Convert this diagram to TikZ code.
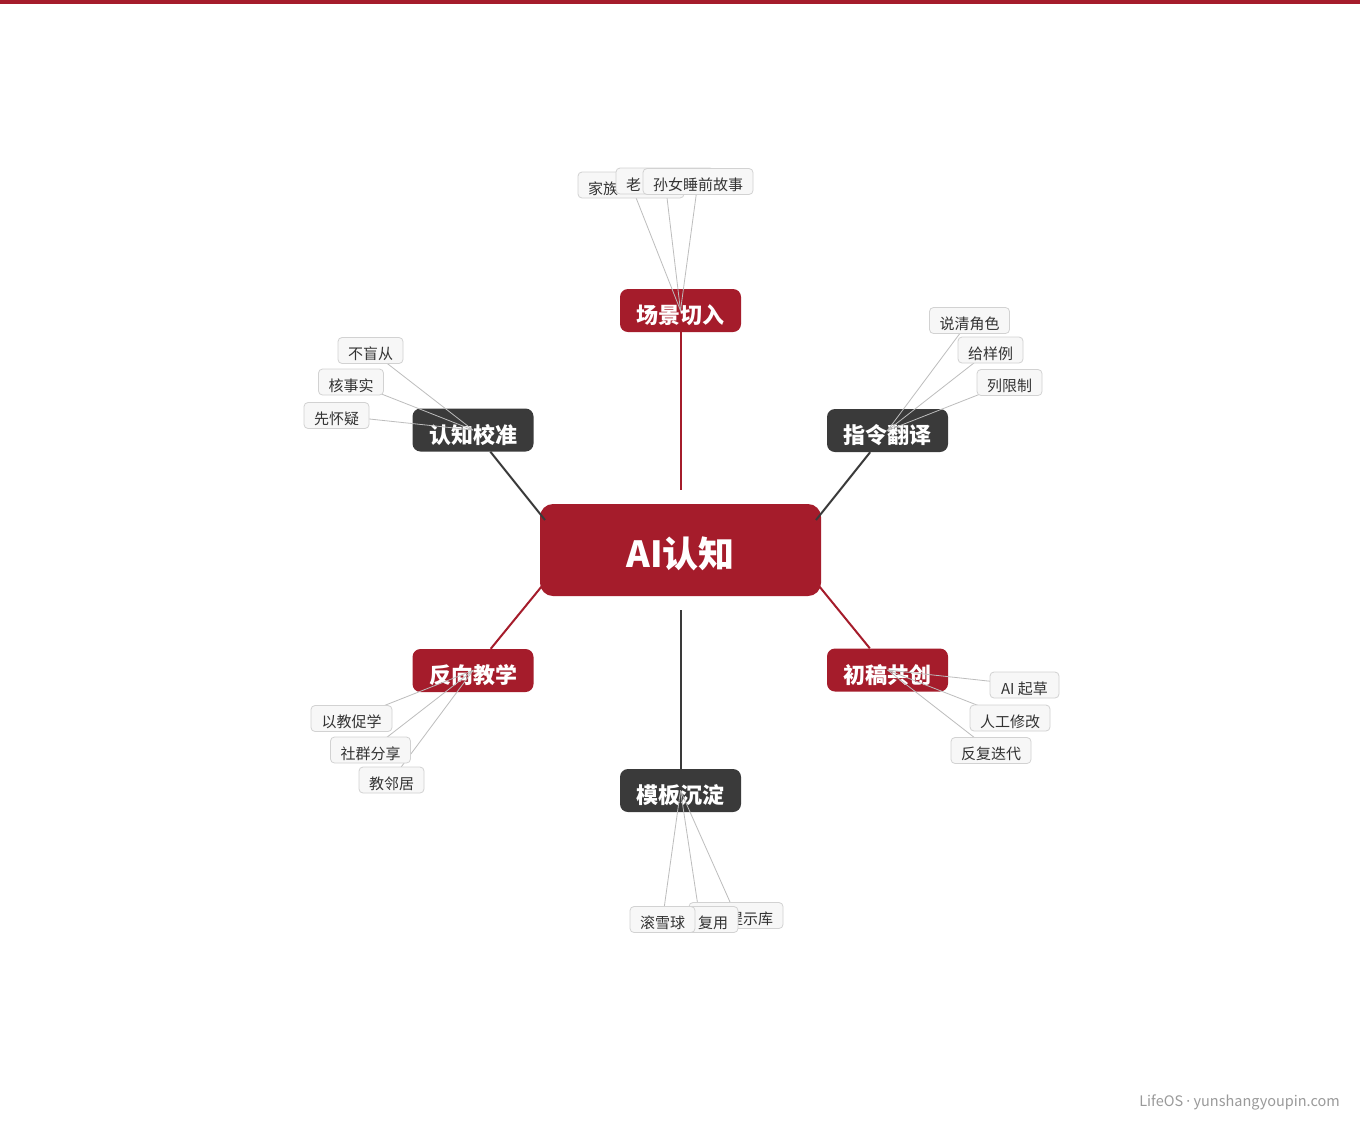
\documentclass[tikz,border=0pt]{standalone}
\usepackage{fontspec}
\newfontfamily\cjk{Noto Sans CJK SC}
\newfontfamily\dotfont{Noto Sans}
\pgfdeclarelayer{bg}
\pgfdeclarelayer{mid}
\pgfsetlayers{bg,mid,main}
\definecolor{brand}{HTML}{A51C2B}
\definecolor{ink}{HTML}{3A3A3A}
\definecolor{leaffill}{HTML}{F7F7F7}
\definecolor{leafdraw}{HTML}{D2D2D2}
\definecolor{leafline}{HTML}{BDBDBD}
\definecolor{leaftext}{HTML}{333333}
\definecolor{footgray}{HTML}{9A9A9A}
\tikzset{
  hub/.style={rectangle, rounded corners=13pt, fill=brand, text=white, minimum width=281pt, minimum height=92pt, inner sep=0pt, text height=35pt, text depth=0pt, font=\cjk\bfseries\fontsize{36}{40}\selectfont},
  branch/.style={rectangle, rounded corners=8pt, text=white, minimum width=121pt, minimum height=43pt, inner sep=0pt, text height=26pt, text depth=0pt, font=\cjk\bfseries\fontsize{22}{26}\selectfont},
  redbranch/.style={branch, fill=brand},
  darkbranch/.style={branch, fill=ink},
  leaf/.style={rectangle, rounded corners=4pt, fill=leaffill, draw=leafdraw, line width=0.8pt, text=leaftext, minimum height=26pt, inner xsep=10pt, inner ysep=0pt, text height=18pt, text depth=0pt, font=\cjk\fontsize{15}{18}\selectfont},
  redlink/.style={draw=brand, line width=2pt},
  darklink/.style={draw=ink, line width=2pt},
  twig/.style={draw=leafline, line width=0.8pt},
}
\begin{document}
\begin{tikzpicture}[x=1pt, y=-1pt]
\useasboundingbox (0,0) rectangle (1360,1120);
\begin{pgfonlayer}{bg}
\fill[white] (0,0) rectangle (1360,1120);
\fill[brand] (0,0) rectangle (1360,4);
\node[hub] (c) at (680.5,550) {AI认知};
\node[redbranch]  (b1) at (680.5,310.5) {场景切入};
\node[darkbranch] (b2) at (473,430)     {认知校准};
\node[darkbranch] (b3) at (887.5,430.5) {指令翻译};
\node[redbranch]  (b4) at (473,670.5)   {反向教学};
\node[redbranch]  (b5) at (887.5,670)   {初稿共创};
\node[darkbranch] (b6) at (680.5,790.5) {模板沉淀};
\coordinate (k1) at (680.5,490);
\coordinate (k2) at (545,520);
\coordinate (k3) at (816,520);
\coordinate (k4) at (542,586);
\coordinate (k5) at (819,586);
\coordinate (k6) at (680.5,610);
\draw[redlink]  (b1) -- (k1);
\draw[darklink] (b2) -- (k2);
\draw[darklink] (b3) -- (k3);
\draw[redlink]  (b4) -- (k4);
\draw[redlink]  (b5) -- (k5);
\draw[darklink] (b6) -- (k6);
\end{pgfonlayer}
% leaves
\node[leaf, text width=86pt, align=left] (t1a) at (631,185) {家族};
\node[leaf, text width=78pt, align=left] (t1b) at (665,181) {老};
\node[leaf, minimum width=110pt] (t1c) at (698,181.5) {孙女睡前故事};
\node[leaf, minimum width=65pt] (t2a) at (370.5,350.5) {不盲从};
\node[leaf, minimum width=65pt] (t2b) at (351,382) {核事实};
\node[leaf, minimum width=65pt] (t2c) at (336.5,415.5) {先怀疑};
\node[leaf, minimum width=79pt] (t3a) at (969.5,320.5) {说清角色};
\node[leaf, minimum width=65pt] (t3b) at (990.5,350) {给样例};
\node[leaf, minimum width=65pt] (t3c) at (1009.5,382.5) {列限制};
\node[leaf, minimum width=81pt] (t4a) at (351.5,718.5) {以教促学};
\node[leaf, minimum width=79pt] (t4b) at (370.5,750) {社群分享};
\node[leaf, minimum width=65pt] (t4c) at (391.5,780) {教邻居};
\node[leaf, minimum width=69pt] (t5a) at (1024.5,685) {AI 起草};
\node[leaf, minimum width=80pt] (t5b) at (1010,718) {人工修改};
\node[leaf, minimum width=80pt] (t5c) at (991,750.5) {反复迭代};
\node[leaf, text width=74pt, align=right] (t6c) at (736,915.5) {提示库};
\node[leaf, text width=56pt, align=right] (t6b) at (700,919.5) {复用};
\node[leaf, minimum width=63pt] (t6a) at (662.5,919.5) {滚雪球};
\begin{pgfonlayer}{mid}
\foreach \b/\t in {b1/t1a,b1/t1b,b1/t1c,b2/t2a,b2/t2b,b2/t2c,b3/t3a,b3/t3b,b3/t3c,b4/t4a,b4/t4b,b4/t4c,b5/t5a,b5/t5b,b5/t5c,b6/t6a,b6/t6b,b6/t6c}
  \draw[twig] (\b.center) -- (\t.center);
\end{pgfonlayer}
\node[anchor=base east, inner sep=0pt, text=footgray, font=\cjk\fontsize{14.5}{18}\selectfont] (foot) at (1340,1106) {LifeOS {\dotfont·} yunshangyoupin.com};
\end{tikzpicture}
\end{document}
